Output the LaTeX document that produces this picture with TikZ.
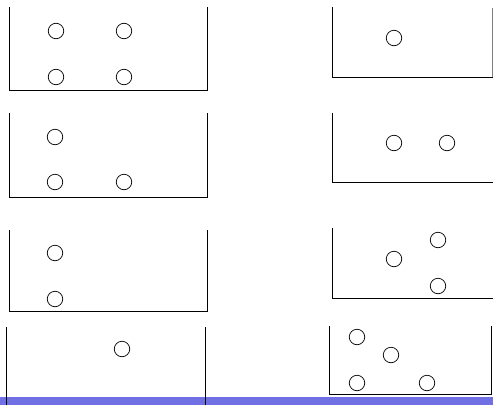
\documentclass[tikz,border=0pt]{standalone}
\usepackage{tikz}
\usetikzlibrary{positioning}
\definecolor{barblue}{RGB}{112,112,228}

\tikzset{
  jar/.style={draw=black, line width=0.8pt},
  ball/.style={circle, draw=black, line width=0.7pt, minimum size=15.5pt, inner sep=0pt}
}
\newcommand{\jarbox}[4]{\draw[jar] (#1,#2) -- (#1,#4) -- (#3,#4) -- (#3,#2);}

\begin{document}
\begin{tikzpicture}[x=1pt, y=-1pt]
      \useasboundingbox (0,0) rectangle (493,405);
      \fill[barblue] (0,397) rectangle (493,405);
      % left column
      \jarbox{9}{7}{207}{90}
      \jarbox{9}{113}{207}{197}
      \jarbox{9}{230}{207}{311}
      \draw[jar] (6,327) -- (6,405);
      \draw[jar] (205,327) -- (205,405);
      % right column
      \draw[jar] (332,7) -- (332,77) -- (493,77);
      \draw[jar, draw=black!50] (492,8) -- (492,77);
      \draw[jar] (332,113) -- (332,182) -- (493,182);
      \draw[jar] (332,228) -- (332,298) -- (493,298);
      \jarbox{329}{326}{491}{394}
      % balls
      \foreach \name/\x/\y in {a1/56/31, a2/124/31, a3/56/77, a4/124/77,
          b1/55/137, b2/55/182, b3/124/182,
          c1/55/253, c2/55/299,
          d1/122/349,
          e1/394/38,
          f1/394/143, f2/447/143,
          g1/394/259, g2/438/240, g3/438/286,
          h1/357/337, h2/391/355, h3/357/383, h4/427/383}
        \node[ball] (\name) at (\x,\y) {};
    \end{tikzpicture}
\end{document}
